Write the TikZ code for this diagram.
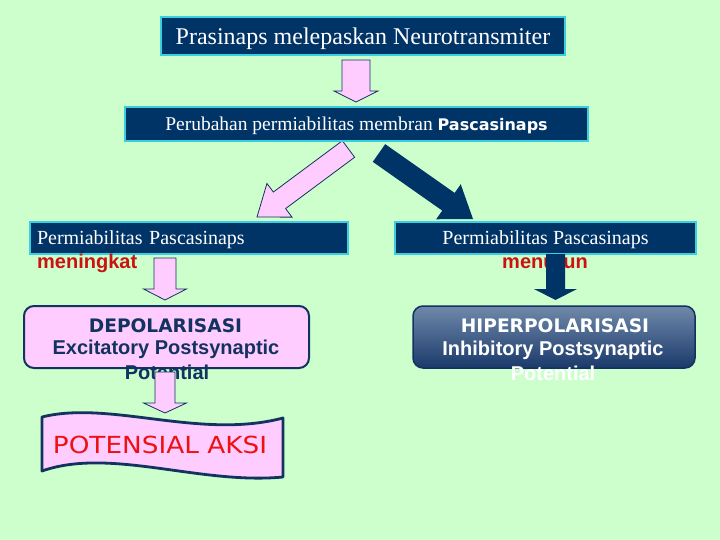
\documentclass[tikz,border=0pt]{standalone}
\usepackage{fontspec}
\setmainfont{Liberation Serif}
\newfontfamily\arialf{Liberation Sans}
\newfontfamily\comicf{DejaVu Sans}
\newfontfamily\comicw[FakeStretch=1.12]{DejaVu Sans}
\usetikzlibrary{calc}
\definecolor{bg}{HTML}{CCFFCC}
\definecolor{navy}{HTML}{003366}
\definecolor{cyanB}{HTML}{38D0E0}
\definecolor{pinkF}{HTML}{FFCCFF}
\definecolor{redT}{HTML}{CC1111}
\definecolor{redA}{HTML}{EE1111}
\definecolor{edge}{HTML}{12325F}
\definecolor{hipTop}{HTML}{7089AA}
\definecolor{hipBot}{HTML}{1B3A6B}
\newcommand\blockarr[6]{%
  \coordinate (#2-h) at ($(#3)!#6!(#2)$);
  \path[#1] ($(#2)!#4!90:(#3)$) -- ($(#2-h)!#4!90:(#3)$) -- ($(#2-h)!#5!90:(#3)$) -- (#3)
    -- ($(#2-h)!#5!-90:(#3)$) -- ($(#2-h)!#4!-90:(#3)$) -- ($(#2)!#4!-90:(#3)$) -- cycle;
}
\begin{document}
\begin{tikzpicture}[x=1pt,y=-1pt,
  cbox/.style={draw=cyanB, line width=2.5pt, fill=navy, text=white, inner sep=0pt, text depth=0pt},
  pinkarr/.style={fill=pinkF, draw=edge, line width=0.8pt, line join=miter},
  navyarr/.style={fill=navy},
  redlbl/.style={text=redT, font=\arialf\bfseries\fontsize{20}{24}\selectfont, inner sep=0pt, anchor=base},
  depline/.style={text=edge, inner sep=0pt, anchor=base},
  hipline/.style={text=white, inner sep=0pt, anchor=base},
  sansb/.style={font=\arialf\bfseries\fontsize{20}{24}\selectfont},
  comicb/.style={font=\comicf\bfseries\fontsize{18.6}{22}\selectfont}
]
\fill[bg] (0,0) rectangle (720,540);
\useasboundingbox (0,0) rectangle (720,540);

% diagonal arrows (under the boxes)
\coordinate (d1s) at (348.5,149);
\coordinate (d1e) at (257,217);
\blockarr{pinkarr}{d1s}{d1e}{10.3pt}{21pt}{28pt}
\coordinate (d2s) at (379,153);
\coordinate (d2e) at (473,219);
\blockarr{navyarr}{d2s}{d2e}{10.8pt}{21.4pt}{30pt}

% boxes
\node[cbox, minimum width=404pt, minimum height=38pt, text height=18pt,
  font=\fontsize{24}{28}\selectfont] (b1) at (363,36) {Prasinaps melepaskan Neurotransmiter};
\node[cbox, minimum width=463pt, minimum height=34pt, text height=14pt,
  font=\fontsize{19.5}{24}\selectfont] (b2) at (356.5,124)
  {Perubahan permiabilitas membran {\comicf\bfseries\fontsize{16}{20}\selectfont Pascasinaps}};
\node[cbox, minimum width=318pt, minimum height=32pt, text height=12.6pt, inner xsep=7pt,
  text width=304pt, align=left, font=\fontsize{20}{24}\selectfont] (b3) at (189,238)
  {Permiabilitas Pascasinaps};
\node[cbox, minimum width=301pt, minimum height=32pt, text height=12.6pt,
  font=\fontsize{20}{24}\selectfont] (b4) at (545.5,238) {Permiabilitas Pascasinaps};

\node[redlbl, anchor=base west] (up) at (37,268.5) {meningkat};
\node[redlbl] (down) at (545,268.5) {menurun};

% vertical arrows
\coordinate (a1s) at (356,60);
\coordinate (a1e) at (356,102);
\blockarr{pinkarr}{a1s}{a1e}{14pt}{22pt}{11pt}
\coordinate (a2s) at (165,258);
\coordinate (a2e) at (165,300);
\blockarr{pinkarr}{a2s}{a2e}{11pt}{21.5pt}{11pt}
\coordinate (a3s) at (555.5,254);
\coordinate (a3e) at (555.5,300);
\blockarr{navyarr}{a3s}{a3e}{9.5pt}{21.5pt}{11pt}

% result boxes
\node[draw=edge, line width=2pt, rounded corners=10pt, fill=pinkF,
  minimum width=285pt, minimum height=62pt] (dep) at (166.5,337) {};
\node[draw=edge, line width=1.5pt, rounded corners=10pt, top color=hipTop, bottom color=hipBot,
  minimum width=282pt, minimum height=62pt] (hip) at (554,337) {};
\node[depline, comicb] (dep1) at (165.5,332) {DEPOLARISASI};
\node[depline, sansb] (dep2) at (166,354.5) {Excitatory Postsynaptic};
\node[depline, sansb] (dep3) at (167,379.5) {Potential};
\node[hipline, comicb] (hip1) at (555,332) {HIPERPOLARISASI};
\node[hipline, sansb] (hip2) at (553,355) {Inhibitory Postsynaptic};
\node[hipline, sansb] (hip3) at (553,380) {Potential};

\coordinate (a4s) at (165,372);
\coordinate (a4e) at (165,413);
\blockarr{pinkarr}{a4s}{a4e}{10pt}{21.5pt}{10pt}

% banner
\path[draw=edge, line width=2.8pt, fill=pinkF, line join=round]
  (42,417) .. controls (110,400) and (200,440) .. (283,418)
  -- (283,477) .. controls (200,485) and (110,447) .. (42,471) -- cycle;
\node[text=redA, inner sep=0pt, anchor=base, font=\comicw\fontsize{23.5}{28}\selectfont]
  (aksi) at (160,453) {POTENSIAL AKSI};
\end{tikzpicture}
\end{document}
